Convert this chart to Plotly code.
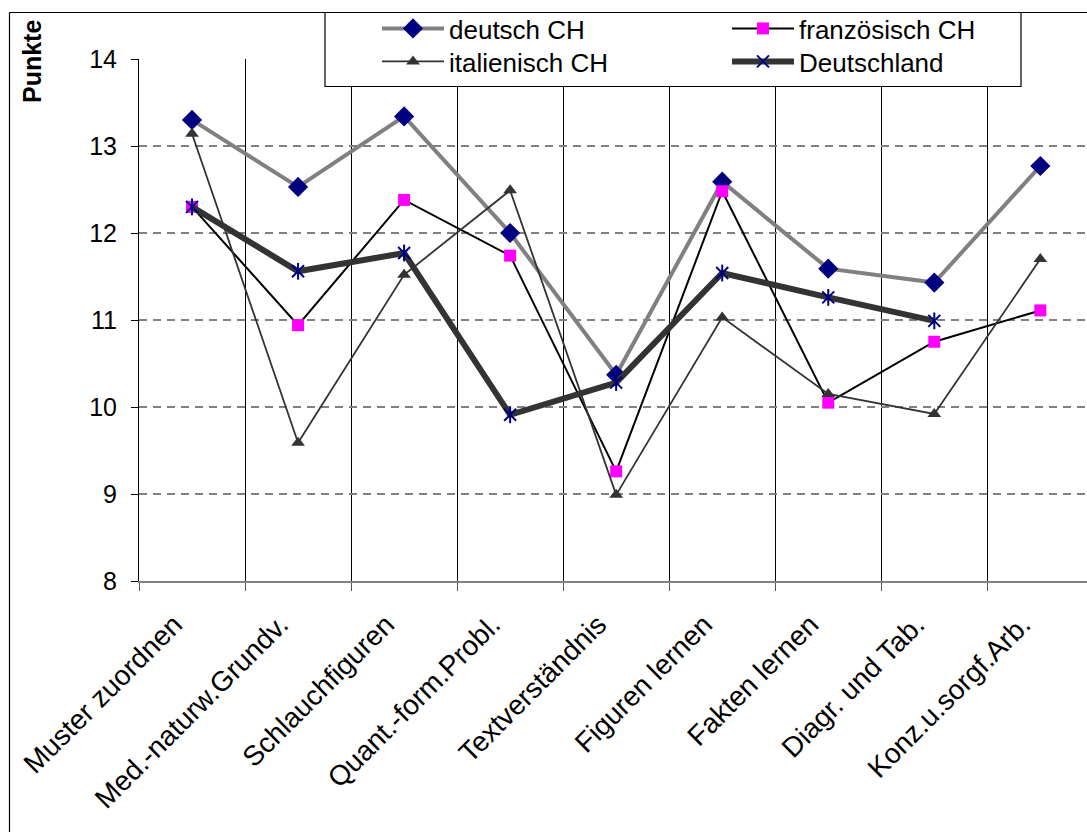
import plotly.graph_objects as go

# Test categories and mean scores per group
categories = [
    "Muster zuordnen", "Med.-naturw.Grundv.", "Schlauchfiguren",
    "Quant.-form.Probl.", "Textverständnis", "Figuren lernen",
    "Fakten lernen", "Diagr. und Tab.", "Konz.u.sorgf.Arb.",
]
deutsch_ch = [13.30, 12.53, 13.34, 12.00, 10.37, 12.59, 11.59, 11.43, 12.77]
franzoesisch_ch = [12.30, 10.94, 12.38, 11.74, 9.26, 12.48, 10.05, 10.75, 11.11]
italienisch_ch = [13.14, 9.59, 11.52, 12.49, 8.99, 11.03, 10.15, 9.92, 11.70]
deutschland = [12.30, 11.56, 11.77, 9.91, 10.28, 11.54, 11.26, 10.99, None]
y_ticks = [8, 9, 10, 11, 12, 13, 14]

W, H = 1087, 832
L, R, T, B = 139, 0, 59, 251
PW, PH = W - L - R, H - T - B


def px_x(x):
    return (x - L) / PW


def px_y(y):
    return (H - B - y) / PH


FONT = "Liberation Sans, Arial, sans-serif"

fig = go.Figure()

fig.add_trace(go.Scatter(
    x=categories, y=deutsch_ch, name="deutsch CH", mode="lines+markers",
    line=dict(color="#808080", width=4),
    marker=dict(symbol="diamond", size=15.5, color="#000080"),
    legend="legend",
))
fig.add_trace(go.Scatter(
    x=categories, y=franzoesisch_ch, name="französisch CH", mode="lines+markers",
    line=dict(color="#000000", width=2),
    marker=dict(symbol="square", size=12, color="#FF00FF"),
    legend="legend2",
))
fig.add_trace(go.Scatter(
    x=categories, y=italienisch_ch, name="italienisch CH", mode="lines+markers",
    line=dict(color="#333333", width=1.8),
    marker=dict(symbol="triangle-up", size=12, color="#333333"),
    legend="legend3",
))
fig.add_trace(go.Scatter(
    x=categories, y=deutschland, name="Deutschland", mode="lines+markers",
    line=dict(color="#333333", width=6),
    marker=dict(symbol="x-thin-open", size=12, color="#000080",
                line=dict(color="#000080", width=2)),
    legend="legend4", legendgroup="de",
))
# vertical stroke of the star marker
fig.add_trace(go.Scatter(
    x=categories, y=deutschland, name="Deutschland", mode="markers",
    marker=dict(symbol="line-ns-open", size=12, color="#000080",
                line=dict(color="#000080", width=2)),
    legend="legend4", legendgroup="de", showlegend=False,
))

legend_common = dict(
    orientation="v", xanchor="left", yanchor="top",
    bgcolor="rgba(0,0,0,0)", borderwidth=0,
    font=dict(family=FONT, size=26, color="black"),
    itemwidth=62, traceorder="normal", tracegroupgap=0,
)
col_x = [px_x(377), px_x(727)]
row_y = [px_y(5), px_y(38)]

fig.update_layout(
    width=W, height=H,
    margin=dict(l=L, r=R, t=T, b=B, pad=0),
    paper_bgcolor="white", plot_bgcolor="white",
    font=dict(family=FONT, color="black", size=25),
    showlegend=True,
    legend=dict(legend_common, x=col_x[0], y=row_y[0]),
    legend2=dict(legend_common, x=col_x[1], y=row_y[0]),
    legend3=dict(legend_common, x=col_x[0], y=row_y[1]),
    legend4=dict(legend_common, x=col_x[1], y=row_y[1]),
    xaxis=dict(
        type="category", range=[-0.5, 8.44],
        tickson="boundaries", ticks="outside", ticklen=8, tickcolor="#555555",
        showline=True, linecolor="#808080", linewidth=2,
        showgrid=True, gridcolor="#000000", gridwidth=1,
        tickangle=-45, tickfont=dict(family=FONT, size=28, color="black"),
        ticklabelstandoff=14, ticklabelshift=-18,
        zeroline=False, fixedrange=True,
    ),
    yaxis=dict(
        range=[8, 14], tickvals=y_ticks, ticks="outside", ticklen=7,
        tickcolor="#000000", showline=True, linecolor="#000000", linewidth=1,
        showgrid=True, gridcolor="#808080", gridwidth=1.5, griddash="8px,6px",
        tickfont=dict(family=FONT, size=25, color="black"),
        ticklabelstandoff=9, zeroline=False, fixedrange=True,
    ),
    shapes=[
        # outer chart frame (left and top edges)
        dict(type="line", xref="paper", yref="paper",
             x0=px_x(9.5), x1=px_x(9.5), y0=px_y(12.5), y1=px_y(840),
             line=dict(color="black", width=1.2)),
        dict(type="line", xref="paper", yref="paper",
             x0=px_x(9.5), x1=px_x(1095), y0=px_y(12.5), y1=px_y(12.5),
             line=dict(color="black", width=1.2)),
        # legend box
        dict(type="rect", xref="paper", yref="paper", layer="above",
             x0=px_x(325), x1=px_x(1021), y0=px_y(12.5), y1=px_y(86.5),
             fillcolor="white", line=dict(color="black", width=1.2)),
    ],
    annotations=[
        dict(text="<b>Punkte</b>", textangle=-90, xref="paper", yref="paper",
             x=px_x(32), y=px_y(62), xanchor="center", yanchor="middle",
             showarrow=False,
             font=dict(family=FONT, size=25, color="black")),
    ],
)

fig.write_html("out.html")
